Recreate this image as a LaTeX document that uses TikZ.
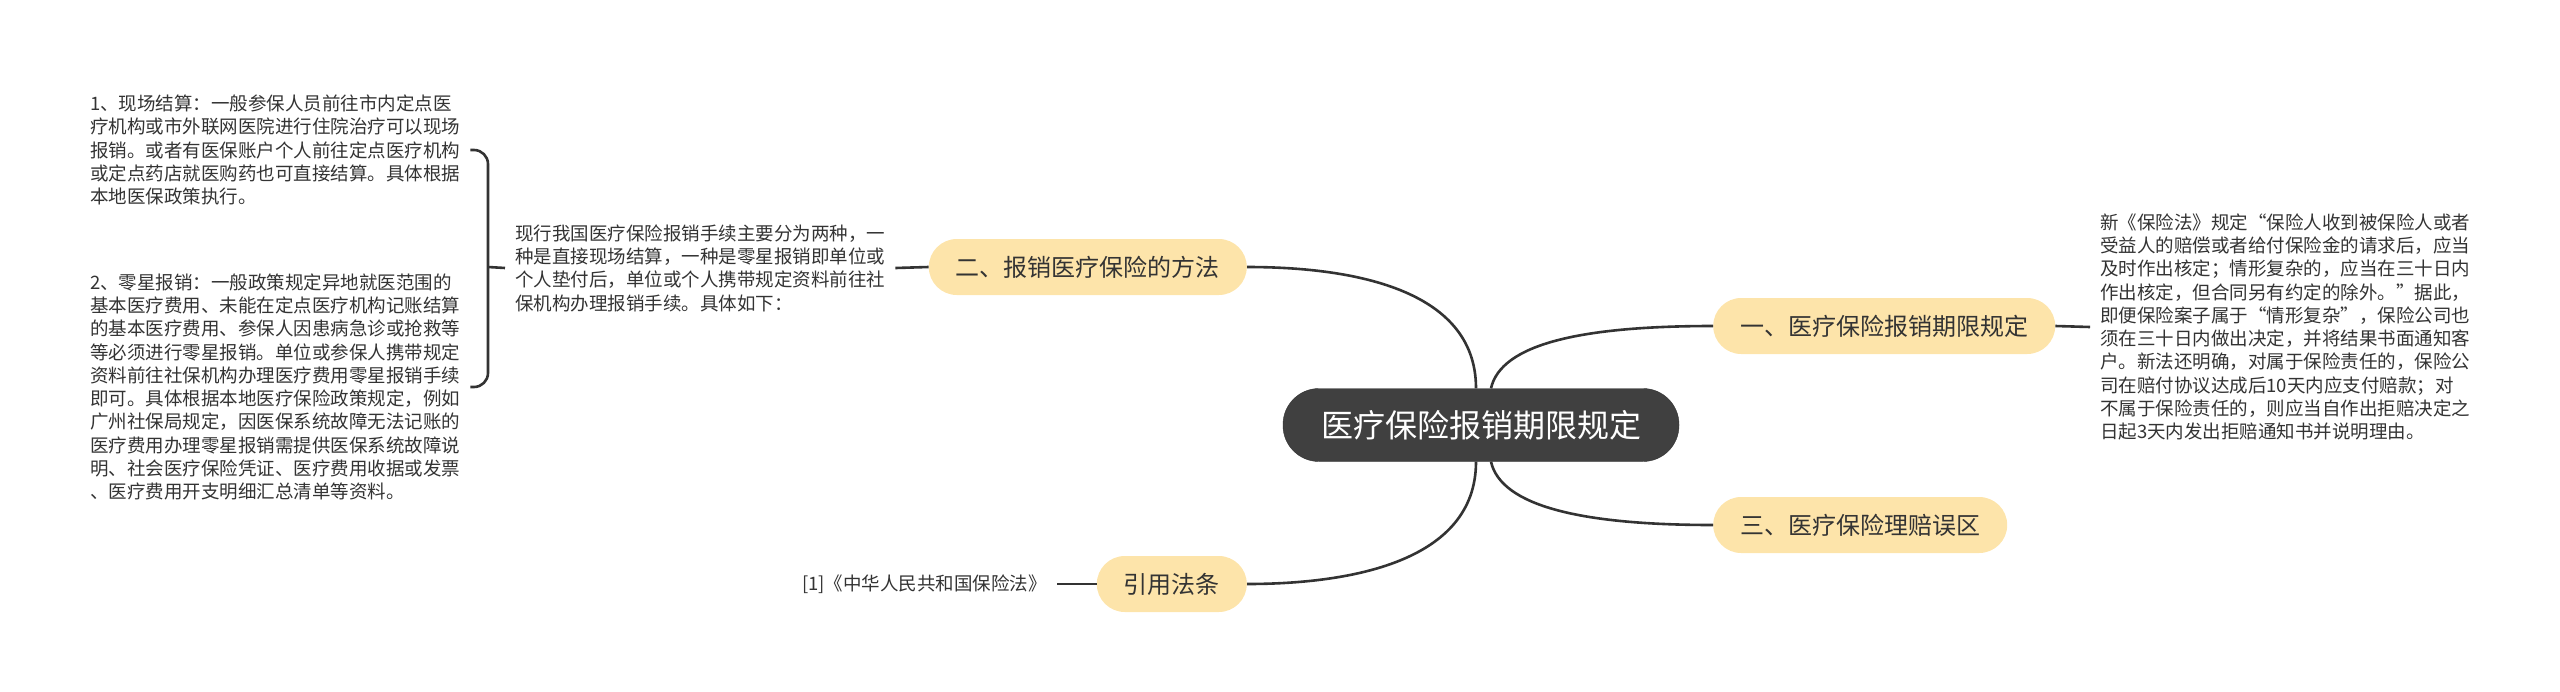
\documentclass[tikz,border=0pt]{standalone}
\usepackage{fontspec}
\newfontfamily\cjk{Noto Sans CJK SC}
\usepackage{tikz}
\usetikzlibrary{calc}
\definecolor{rootgray}{RGB}{64,64,64}
\definecolor{branchtan}{RGB}{253,228,170}
\definecolor{inkgray}{RGB}{51,51,51}

\begin{document}
\begin{tikzpicture}[x=1pt,y=-1pt,
  root/.style={fill=rootgray,draw=rootgray!80!black,text=white,rounded corners=36pt,minimum height=73pt,inner xsep=38pt,font=\cjk\fontsize{32}{36}\selectfont},
  branch/.style={fill=branchtan,text=inkgray,rounded corners=28pt,minimum height=56pt,inner xsep=27pt,font=\cjk\fontsize{24}{28}\selectfont},
  leaf/.style={text=inkgray,align=left,inner xsep=10pt,inner ysep=0pt,font=\cjk\fontsize{18.5}{23.3}\selectfont},
  link/.style={draw=inkgray,line width=2.6pt}]
  \useasboundingbox (0,0) rectangle (2560,691);
  \node[root] (root) at (1481,425) {医疗保险报销期限规定};
  \node[branch,anchor=west] (b1) at (1713,326) {一、医疗保险报销期限规定};
  \node[branch,anchor=east] (b2) at (1247,267) {二、报销医疗保险的方法};
  \node[branch,anchor=west] (b3) at (1713,525) {三、医疗保险理赔误区};
  \node[branch,anchor=east] (b4) at (1247,584) {引用法条};
  \node[leaf,anchor=west] (rule) at (2090,327) {新《保险法》规定“保险人收到被保险人或者\\受益人的赔偿或者给付保险金的请求后，应当\\及时作出核定；情形复杂的，应当在三十日内\\作出核定，但合同另有约定的除外。”据此，\\即便保险案子属于“情形复杂”，保险公司也\\须在三十日内做出决定，并将结果书面通知客\\户。新法还明确，对属于保险责任的，保险公\\司在赔付协议达成后10天内应支付赔款；对\\不属于保险责任的，则应当自作出拒赔决定之\\日起3天内发出拒赔通知书并说明理由。};
  \node[leaf,anchor=west] (ways) at (505,268) {现行我国医疗保险报销手续主要分为两种，一\\种是直接现场结算，一种是零星报销即单位或\\个人垫付后，单位或个人携带规定资料前往社\\保机构办理报销手续。具体如下：};
  \node[leaf,anchor=west] (onsite) at (80,150) {1、现场结算：一般参保人员前往市内定点医\\疗机构或市外联网医院进行住院治疗可以现场\\报销。或者有医保账户个人前往定点医疗机构\\或定点药店就医购药也可直接结算。具体根据\\本地医保政策执行。};
  \node[leaf,anchor=west] (sporadic) at (80,387) {2、零星报销：一般政策规定异地就医范围的\\基本医疗费用、未能在定点医疗机构记账结算\\的基本医疗费用、参保人因患病急诊或抢救等\\等必须进行零星报销。单位或参保人携带规定\\资料前往社保机构办理医疗费用零星报销手续\\即可。具体根据本地医疗保险政策规定，例如\\广州社保局规定，因医保系统故障无法记账的\\医疗费用办理零星报销需提供医保系统故障说\\明、社会医疗保险凭证、医疗费用收据或发票\\、医疗费用开支明细汇总清单等资料。};
  \node[leaf,anchor=east] (law) at (1057,584) {[1]《中华人民共和国保险法》};
  \draw[link] ([xshift=-5pt]root.north) .. controls +(0,-101) and +(101,0) .. (b2.east);
  \draw[link] ([xshift=-5pt]root.south) .. controls +(0,101) and +(101,0) .. (b4.east);
  \draw[link] ([xshift=10pt]root.north) .. controls +(10,-44) and +(-133,0) .. (b1.west);
  \draw[link] ([xshift=10pt]root.south) .. controls +(10,44) and +(-133,0) .. (b3.west);
  \draw[link] (b1.east) -- (rule.west);
  \draw[link] (b2.west) -- (ways.east);
  \draw[link] (b4.west) -- (law.east);
  \coordinate (bk) at (488,267);
  \draw[link,rounded corners=14pt] (onsite.east) -| (bk) |- (sporadic.east);
  \draw[link] (bk) -- (ways.west);
\end{tikzpicture}
\end{document}
